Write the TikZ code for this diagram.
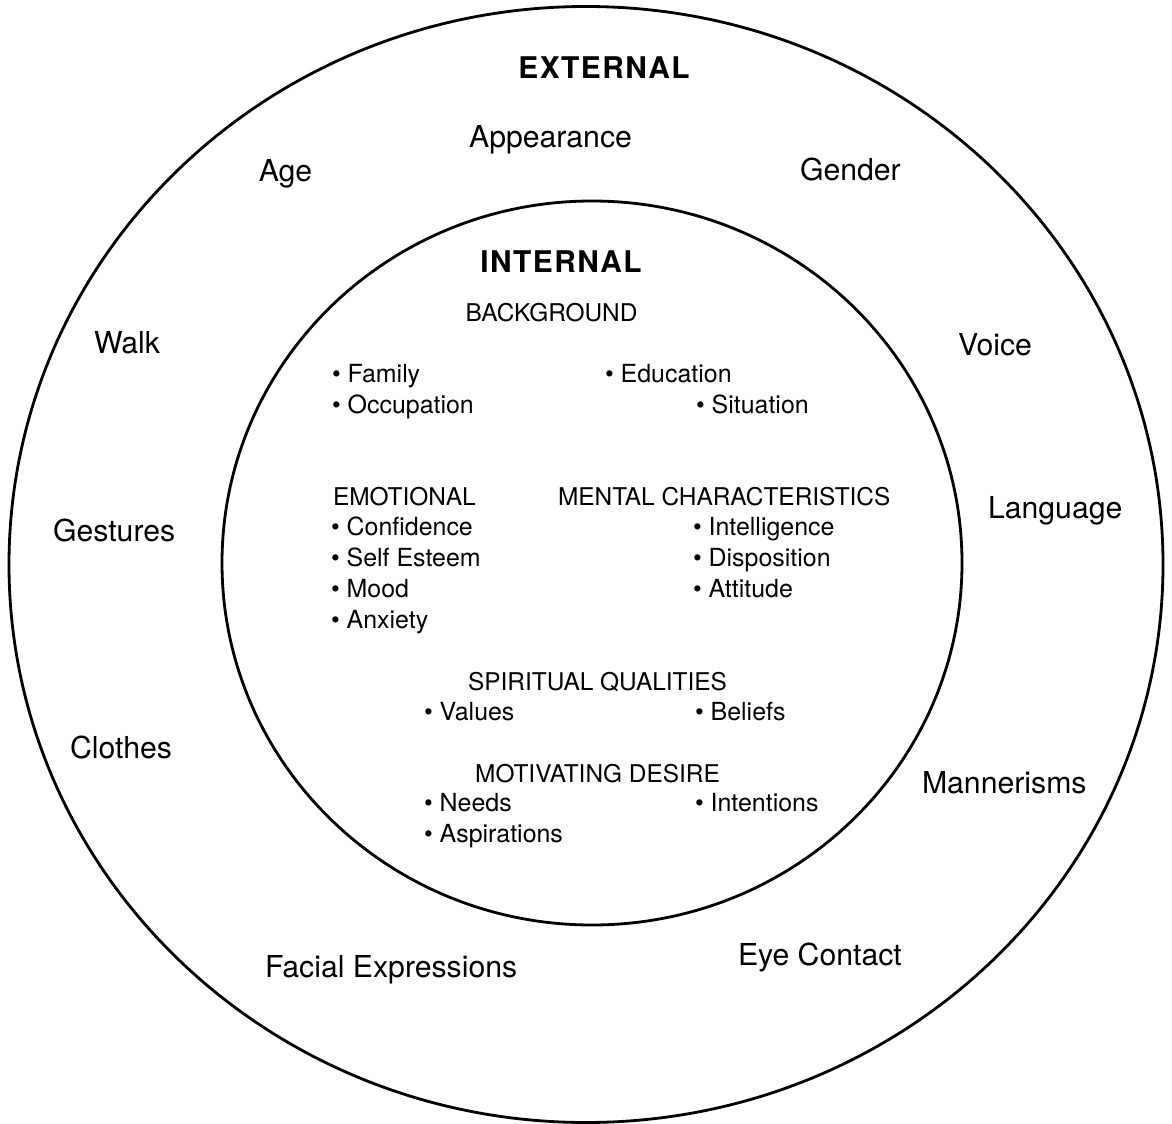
\documentclass[tikz,border=0pt]{standalone}
\usepackage{fontspec}
\setmainfont{TeX Gyre Heros}
\newfontfamily\headfont[LetterSpace=5]{TeX Gyre Heros}
\usetikzlibrary{positioning}

\begin{document}
\begin{tikzpicture}[x=0.02cm, y=-0.02cm, line width=1.6pt,
                    every node/.style={inner sep=0pt, outer sep=0pt}]
  \tikzstyle{head}=[anchor=base, font=\headfont\fontsize{17}{20}\selectfont\bfseries]
  \tikzstyle{outer}=[anchor=base west, font=\fontsize{17.2}{20}\selectfont]
  \tikzstyle{title}=[anchor=base, font=\fontsize{13.9}{16}\selectfont]
  \tikzstyle{inner}=[anchor=base west, font=\fontsize{14.2}{16}\selectfont]

  \useasboundingbox (0,0) rectangle (1172,1124);

  % the two rings
  \draw (586,564.5) ellipse [x radius=577, y radius=558];
  \draw (592,563) ellipse [x radius=370, y radius=362];

  % external ring
  \node[head]  (ext)        at (604,79)  {EXTERNAL};
  \node[outer, anchor=base] (appearance) at (550.5,148) {Appearance};
  \node[outer, anchor=base] (age)        at (285.5,182) {Age};
  \node[outer] (gender)     at (800,181) {Gender};
  \node[outer] (walk)       at (94,354)  {Walk};
  \node[outer] (voice)      at (958,356) {Voice};
  \node[outer] (gestures)   at (53,541)  {Gestures};
  \node[outer] (language)   at (988,519) {Language};
  \node[outer] (clothes)    at (70,758)  {Clothes};
  \node[outer] (mannerisms) at (922,793) {Mannerisms};
  \node[outer] (facial)     at (265,977) {Facial Expressions};
  \node[outer] (eyecontact) at (738,965) {Eye Contact};

  % internal circle
  \node[head]  (int)        at (561,273)   {INTERNAL};
  \node[title] (background) at (551.5,322) {BACKGROUND};
  \node[inner] (family)     at (332,383) {\textbullet\ Family};
  \node[inner] (occupation) at (332,414) {\textbullet\ Occupation};
  \node[inner] (education)  at (605,383) {\textbullet\ Education};
  \node[inner] (situation)  at (696,414) {\textbullet\ Situation};

  \node[title, anchor=base west] (emotional) at (333,505) {EMOTIONAL};
  \node[inner] (confidence) at (331,535) {\textbullet\ Confidence};
  \node[inner] (selfesteem) at (331,566) {\textbullet\ Self Esteem};
  \node[inner] (mood)       at (331,597) {\textbullet\ Mood};
  \node[inner] (anxiety)    at (331,628) {\textbullet\ Anxiety};

  \node[title, anchor=base west] (mental) at (558,505) {MENTAL CHARACTERISTICS};
  \node[inner] (intelligence) at (693,535) {\textbullet\ Intelligence};
  \node[inner] (disposition)  at (693,566) {\textbullet\ Disposition};
  \node[inner] (attitude)     at (693,597) {\textbullet\ Attitude};

  \node[title] (spiritual) at (597.5,690) {SPIRITUAL QUALITIES};
  \node[inner] (values)    at (424,720) {\textbullet\ Values};
  \node[inner] (beliefs)   at (695,720) {\textbullet\ Beliefs};

  \node[title] (motivating)  at (597.5,782) {MOTIVATING DESIRE};
  \node[inner] (needs)       at (424,811) {\textbullet\ Needs};
  \node[inner] (intentions)  at (695,811) {\textbullet\ Intentions};
  \node[inner] (aspirations) at (424,842) {\textbullet\ Aspirations};
\end{tikzpicture}
\end{document}
